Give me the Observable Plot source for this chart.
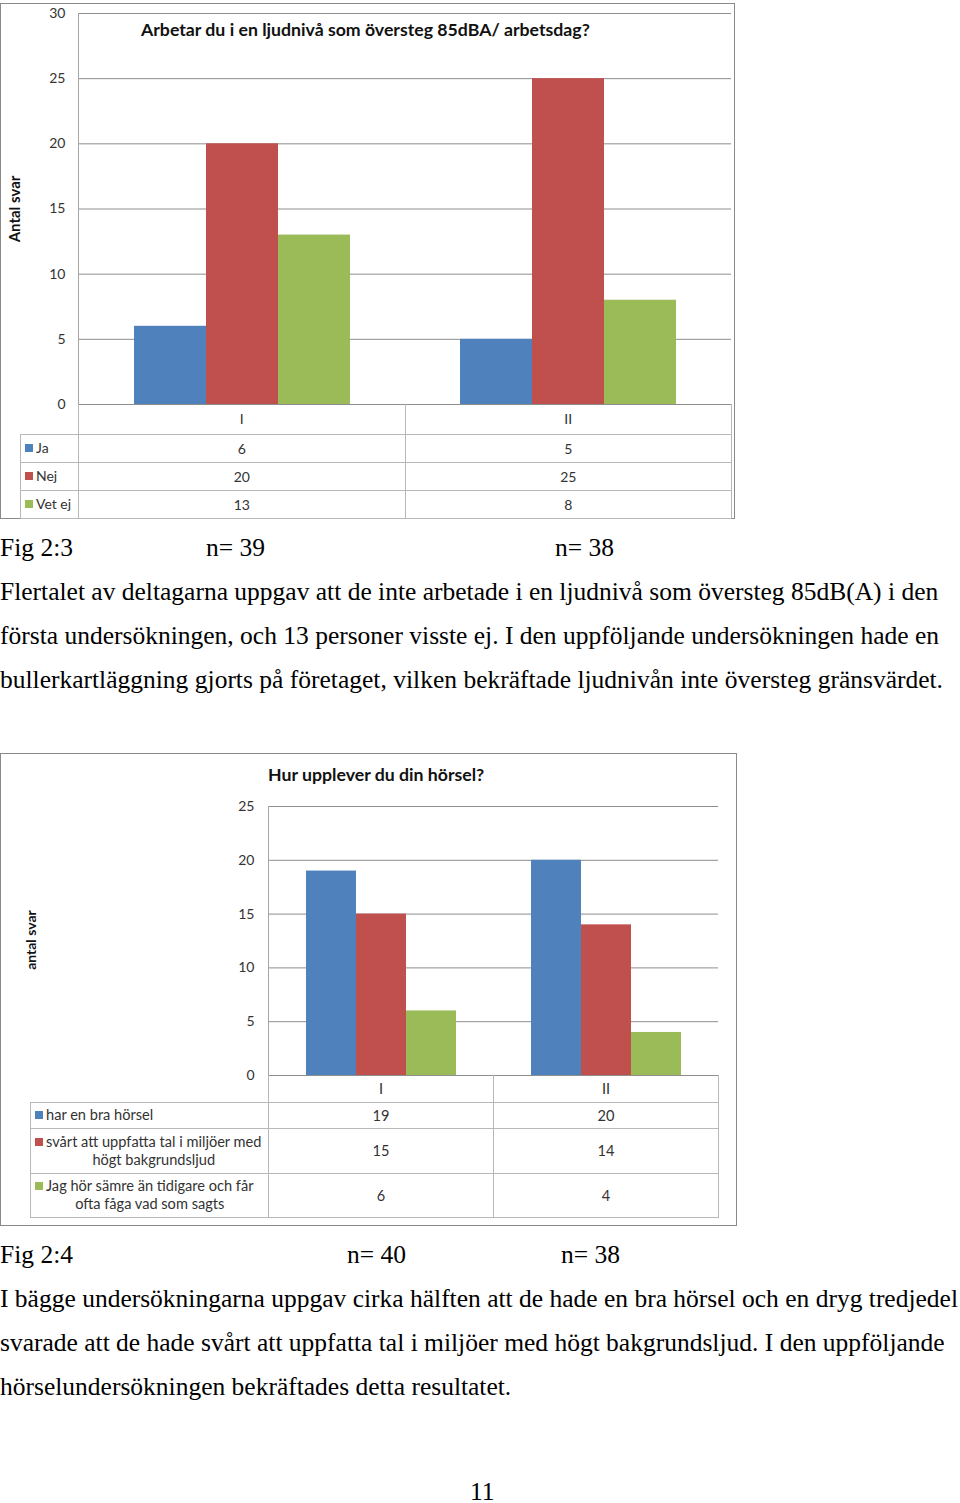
<!DOCTYPE html>
<html><head><meta charset="utf-8">
<script src="https://cdn.jsdelivr.net/npm/d3@7"></script>
<script src="https://cdn.jsdelivr.net/npm/@observablehq/plot@0.6"></script>
<style>
body{margin:0;background:#fff;width:960px;height:1503px;position:relative;overflow:hidden;}
.serif{position:absolute;left:0;font-family:"Liberation Serif","Times New Roman",serif;font-size:25.5px;line-height:26px;color:#000;white-space:nowrap;}
.just{text-align:justify;text-align-last:justify;}
.box{position:absolute;border:1.5px solid #8a8a8a;box-sizing:border-box;}
.title{position:absolute;font-family:Lato,sans-serif;font-weight:bold;font-size:17.7px;line-height:20px;color:#111;white-space:nowrap;}
.ylab{position:absolute;font-family:Lato,sans-serif;font-weight:bold;line-height:18px;color:#111;white-space:nowrap;transform:translate(-50%,-50%) rotate(-90deg);}
.vline{position:absolute;width:0;border-left:1px solid #a6a6a6;}
table.dt{position:absolute;border-collapse:collapse;table-layout:fixed;font-family:Lato,sans-serif;font-size:14px;color:#333;}
table.dt td{border:1px solid #b8b8b8;text-align:center;padding:0;}
table.dt td.blank{border:none;}
table.dt td.leg{text-align:left;padding-left:4px;white-space:nowrap;}
.sw{display:inline-block;width:8px;height:8px;margin-right:3px;vertical-align:middle;position:relative;top:-1px;}
.legtxt{display:inline-block;white-space:pre-line;text-align:center;vertical-align:top;line-height:18px;}
svg{position:absolute;overflow:visible;}
</style>
</head><body>
<script>
// ---------- data ----------
const categories = ["I", "II"];
const colors = ["#4F81BD", "#C0504D", "#9BBB59"];

const fig1Title = "Arbetar du i en ljudnivå som översteg 85dBA/ arbetsdag?";
const fig1YLabel = "Antal svar";
const fig1Series = ["Ja", "Nej", "Vet ej"];
const fig1ValuesI = [6, 20, 13];
const fig1ValuesII = [5, 25, 8];
const fig1Ticks = [0, 5, 10, 15, 20, 25, 30];

const fig2Title = "Hur upplever du din hörsel?";
const fig2YLabel = "antal svar";
const fig2Series = ["har en bra hörsel", "svårt att uppfatta tal i miljöer med\nhögt bakgrundsljud", "Jag hör sämre än tidigare och får\nofta fåga vad som sagts"];
const fig2ValuesI = [19, 15, 6];
const fig2ValuesII = [20, 14, 4];
const fig2Ticks = [0, 5, 10, 15, 20, 25];

const fig1Caption = ["Fig 2:3", "n= 39", "n= 38"];
const fig1Text = [
  "Flertalet av deltagarna uppgav att de inte arbetade i en ljudnivå som översteg 85dB(A) i den",
  "första undersökningen, och 13 personer visste ej. I den uppföljande undersökningen hade en",
  "bullerkartläggning gjorts på företaget, vilken bekräftade ljudnivån inte översteg gränsvärdet."
];
const fig2Caption = ["Fig 2:4", "n= 40", "n= 38"];
const fig2Text = [
  "I bägge undersökningarna uppgav cirka hälften att de hade en bra hörsel och en dryg tredjedel",
  "svarade att de hade svårt att uppfatta tal i miljöer med högt bakgrundsljud. I den uppföljande",
  "hörselundersökningen bekräftades detta resultatet."
];
const pageNumber = "11";

// ---------- helpers ----------
function rows(series, vI, vII) {
  const out = [];
  series.forEach((s, i) => {
    out.push({cat: categories[0], series: s, value: vI[i]});
    out.push({cat: categories[1], series: s, value: vII[i]});
  });
  return out;
}
function el(tag, cls, css, text) {
  const e = document.createElement(tag);
  if (cls) e.className = cls;
  if (css) e.style.cssText = css;
  if (text != null) e.textContent = text;
  document.body.appendChild(e);
  return e;
}
function chart({series, vI, vII, ticks, width, height, mt, mb, ml, mr, outer, top}) {
  const data = rows(series, vI, vII);
  const svg = Plot.plot({
    width, height, marginTop: mt, marginBottom: mb, marginLeft: ml, marginRight: mr,
    style: {fontFamily: "Lato, sans-serif", fontSize: "14px", color: "#333", background: "transparent"},
    fx: {domain: categories, padding: 0, axis: null, label: null},
    x: {domain: series, paddingInner: 0, paddingOuter: outer, axis: null},
    y: {domain: [0, d3.max(ticks)], ticks, tickSize: 0, tickPadding: 14, label: null, grid: false},
    color: {domain: series, range: colors},
    marks: [
      Plot.ruleY(ticks, {stroke: "#8e8e8e", strokeWidth: 1}),
      Plot.barY(data, {fx: "cat", x: "series", y: "value", fill: "series"})
    ]
  });
  svg.style.left = "0px";
  svg.style.top = top + "px";
  document.body.appendChild(svg);
}
function table({series, vI, vII, left, top, widths, heights, font}) {
  const t = el("table", "dt", `left:${left}px;top:${top}px;width:${widths.reduce((a,b)=>a+b,0)}px;${font||""}`);
  const cg = document.createElement("colgroup");
  widths.forEach(w => { const c = document.createElement("col"); c.style.width = w + "px"; cg.appendChild(c); });
  t.appendChild(cg);
  const hr = t.insertRow();
  hr.style.height = heights[0] + "px";
  const b = hr.insertCell(); b.className = "blank";
  categories.forEach(c => { const td = hr.insertCell(); td.textContent = c; td.style.borderTop = "none"; });
  series.forEach((s, i) => {
    const r = t.insertRow();
    r.style.height = heights[i + 1] + "px";
    const lc = r.insertCell(); lc.className = "leg";
    const sw = document.createElement("span"); sw.className = "sw"; sw.style.background = colors[i];
    lc.appendChild(sw);
    const tx = document.createElement("span"); tx.className = "legtxt"; tx.textContent = s;
    lc.appendChild(tx);
    [vI[i], vII[i]].forEach(v => { const td = r.insertCell(); td.textContent = v; });
  });
}

// ---------- figure 1 ----------
el("div", "box", "left:0;top:3px;width:735px;height:516px;");
chart({series: fig1Series, vI: fig1ValuesI, vII: fig1ValuesII, ticks: fig1Ticks,
  width: 734, height: 410, mt: 10, mb: 9, ml: 78, mr: 3, outer: 0.75, top: 3});
el("div", "vline", "left:78px;top:13px;height:391px;");
table({series: fig1Series, vI: fig1ValuesI, vII: fig1ValuesII, left: 20, top: 404,
  widths: [58, 326.5, 326.5], heights: [30, 28, 28, 28]});
el("div", "title", "left:141px;top:20px;", fig1Title);
el("div", "ylab", "left:14px;top:209px;font-size:15px;", fig1YLabel);

el("div", "serif", "top:535px;", fig1Caption[0]);
el("div", "serif", "top:535px;left:206px;", fig1Caption[1]);
el("div", "serif", "top:535px;left:555px;", fig1Caption[2]);
const w1 = [938, 939, 943];
fig1Text.forEach((t, i) => el("div", "serif just", `top:${579 + 44 * i}px;width:${w1[i]}px;`, t));

// ---------- figure 2 ----------
el("div", "box", "left:0;top:753px;width:737px;height:473px;");
chart({series: fig2Series, vI: fig2ValuesI, vII: fig2ValuesII, ticks: fig2Ticks,
  width: 736, height: 331, mt: 53, mb: 9, ml: 268, mr: 18, outer: 0.75, top: 753});
el("div", "vline", "left:268px;top:806px;height:269px;");
table({series: fig2Series, vI: fig2ValuesI, vII: fig2ValuesII, left: 30, top: 1075,
  widths: [238, 225, 225], heights: [27, 26, 45, 44], font: "font-size:14.6px;"});
el("div", "title", "left:268px;top:765px;", fig2Title);
el("div", "ylab", "left:31px;top:940px;font-size:14px;", fig2YLabel);

el("div", "serif", "top:1242px;", fig2Caption[0]);
el("div", "serif", "top:1242px;left:347px;", fig2Caption[1]);
el("div", "serif", "top:1242px;left:561px;", fig2Caption[2]);
const w2 = [958, 944, null];
fig2Text.forEach((t, i) => el("div", "serif" + (w2[i] ? " just" : ""), `top:${1286 + 44 * i}px;` + (w2[i] ? `width:${w2[i]}px;` : ""), t));

el("div", "serif", "top:1482px;left:470px;line-height:20px;", pageNumber);
</script>
</body></html>
